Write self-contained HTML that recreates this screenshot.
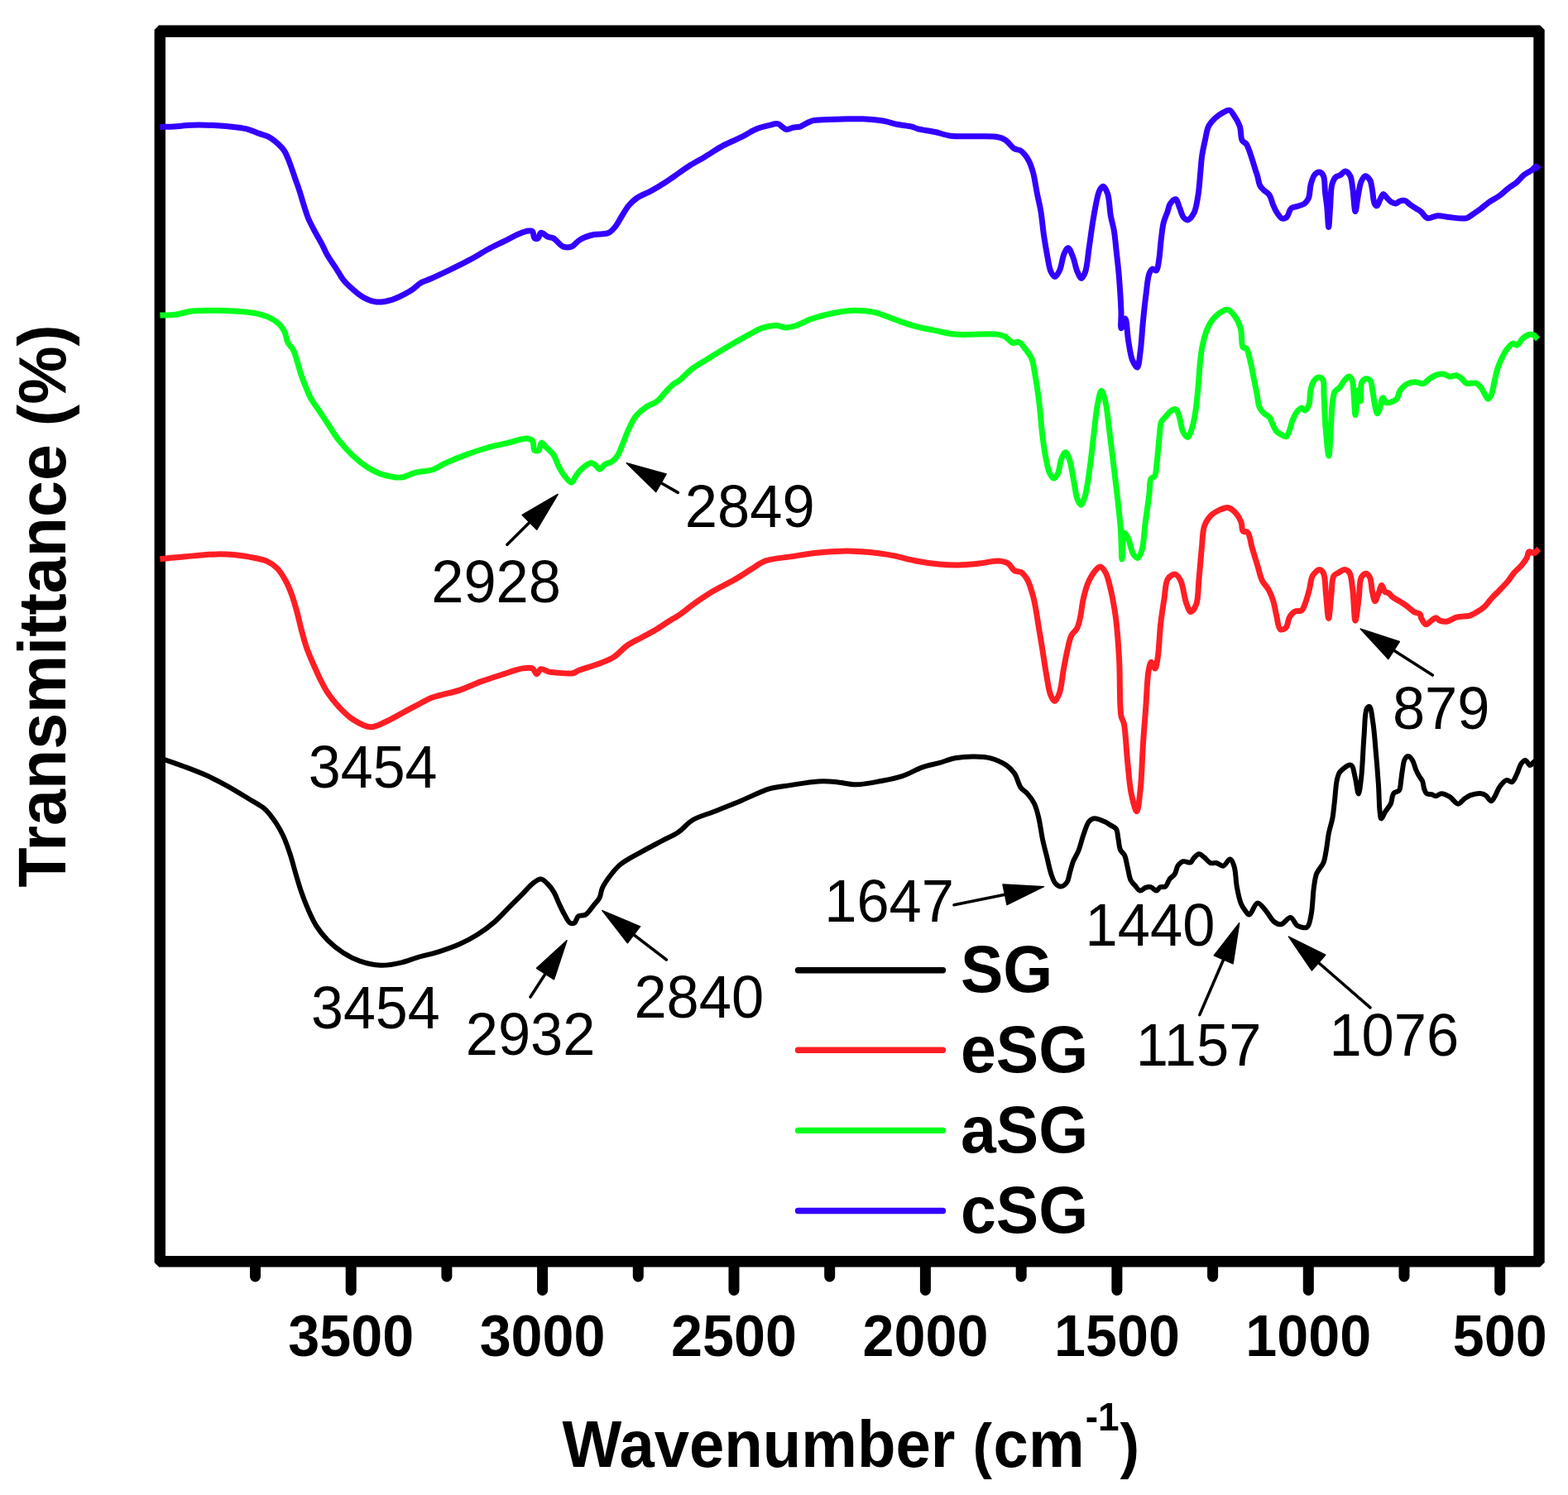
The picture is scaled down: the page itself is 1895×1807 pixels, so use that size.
<!DOCTYPE html>
<html><head><meta charset="utf-8"><title>FTIR spectra</title>
<style>
html,body{margin:0;padding:0;background:#fff;}
body{width:1895px;height:1807px;overflow:hidden;}
svg{display:block;}
text{font-family:'Liberation Sans', Arial, sans-serif;fill:#000;}
.b{font-weight:bold;}
</style></head><body>
<svg width="1895" height="1807" viewBox="0 0 1895 1807">
<rect x="0" y="0" width="1895" height="1807" fill="#fff"/>

<path d="M192.1 30.5H1861.2L1866.7 36.0V1525.9L1861.2 1531.4H192.1L186.6 1525.9V36.0ZM200.0 44.9V1518.0H1853.3V44.9Z" fill="#000" fill-rule="evenodd"/>
<path d="M308.5 1524.8V1543M424.2 1524.8V1559.5M539.9 1524.8V1543M655.6 1524.8V1559.5M771.3 1524.8V1543M887.0 1524.8V1559.5M1002.7 1524.8V1543M1118.4 1524.8V1559.5M1234.2 1524.8V1543M1349.9 1524.8V1559.5M1465.6 1524.8V1543M1581.3 1524.8V1559.5M1697.0 1524.8V1543M1812.7 1524.8V1559.5" stroke="#000" stroke-width="13" stroke-linecap="round" fill="none"/>
<text class="b" font-size="68.3" text-anchor="middle" transform="translate(424.2 1638.7) scale(1 1.041)">3500</text>
<text class="b" font-size="68.3" text-anchor="middle" transform="translate(655.6 1638.7) scale(1 1.041)">3000</text>
<text class="b" font-size="68.3" text-anchor="middle" transform="translate(887.0 1638.7) scale(1 1.041)">2500</text>
<text class="b" font-size="68.3" text-anchor="middle" transform="translate(1118.4 1638.7) scale(1 1.041)">2000</text>
<text class="b" font-size="68.3" text-anchor="middle" transform="translate(1349.9 1638.7) scale(1 1.041)">1500</text>
<text class="b" font-size="68.3" text-anchor="middle" transform="translate(1581.3 1638.7) scale(1 1.041)">1000</text>
<text class="b" font-size="68.3" text-anchor="middle" transform="translate(1812.7 1638.7) scale(1 1.041)">500</text>
<text class="b" font-size="76.1" transform="translate(679.4 1772.5) scale(1 1.043)">Wavenumber <tspan font-size="70.6">(</tspan><tspan dx="1.5">cm</tspan><tspan font-size="46" dy="-41.3" dx="1.2">-1</tspan><tspan font-size="70.6" dy="41.3" dx="0.8">)</tspan></text>
<text class="b" font-size="79" text-anchor="middle" transform="translate(79.3 732.5) rotate(-90) scale(1 1.032)">Transmittance (%)</text>
<path d="M195.0 917.0C196.7 917.5 197.8 917.8 200.1 918.6C205.1 920.3 215.8 924.0 223.8 927.0C232.1 930.1 240.7 933.3 249.1 937.1C257.6 940.9 266.0 945.2 274.4 949.8C282.9 954.5 291.8 960.1 299.8 965.0C306.9 969.4 314.3 972.6 320.0 977.7C325.4 982.6 329.7 989.0 333.5 994.6C336.9 999.7 339.4 1004.2 342.0 1009.8C345.1 1016.3 347.9 1024.2 350.4 1031.7C353.0 1039.4 354.9 1047.7 357.2 1055.4C359.4 1062.9 361.4 1070.0 363.9 1077.3C366.4 1084.7 369.3 1092.2 372.4 1099.3C375.5 1106.3 378.5 1113.3 382.5 1119.5C386.4 1125.6 390.8 1131.2 396.0 1136.4C401.5 1141.9 408.0 1147.3 414.6 1151.6C421.0 1155.7 427.6 1159.2 434.9 1161.7C442.7 1164.4 451.7 1166.5 460.2 1166.8C468.6 1167.1 477.7 1165.2 485.5 1163.4C492.5 1161.8 498.0 1159.1 505.0 1157.1C512.9 1154.8 521.9 1153.0 530.3 1150.4C538.8 1147.7 547.7 1144.7 555.7 1141.1C563.4 1137.6 570.6 1133.8 577.6 1129.3C584.7 1124.8 591.6 1119.5 597.9 1114.1C604.0 1108.8 609.2 1102.8 614.8 1097.2C620.4 1091.6 626.3 1085.6 631.6 1080.3C636.4 1075.5 641.0 1069.8 645.2 1066.8C648.2 1064.7 650.9 1062.4 653.6 1062.6C656.5 1062.8 659.4 1066.0 662.0 1068.5C664.8 1071.2 667.4 1074.9 669.6 1078.6C672.0 1082.7 673.5 1087.6 675.6 1092.1C677.7 1096.6 679.9 1101.5 682.3 1105.6C684.4 1109.3 686.6 1114.4 689.1 1115.7C690.7 1116.5 692.6 1116.5 694.1 1115.7C696.2 1114.5 696.8 1109.0 699.2 1107.3C701.4 1105.7 704.9 1107.2 707.6 1105.6C711.2 1103.5 714.8 1097.4 717.8 1093.8C720.3 1090.8 722.8 1088.6 724.5 1085.4C726.3 1081.9 726.1 1077.5 727.9 1073.5C729.9 1069.0 732.9 1064.5 736.3 1060.0C740.1 1054.9 744.2 1049.5 749.9 1044.8C756.7 1039.2 766.7 1034.4 775.2 1029.6C783.6 1024.9 792.6 1020.3 800.5 1016.1C807.4 1012.4 813.9 1009.8 820.0 1005.7C826.1 1001.6 830.3 995.3 836.9 991.3C844.2 986.9 853.2 984.8 862.2 981.2C872.7 977.0 884.8 972.3 896.0 967.7C907.3 963.0 919.2 956.4 929.8 953.3C938.7 950.7 946.0 950.5 955.1 949.1C965.5 947.5 979.1 945.0 988.9 944.4C996.5 944.0 1002.0 944.3 1009.1 944.9C1017.1 945.5 1025.7 948.3 1034.5 948.3C1044.2 948.3 1055.3 945.8 1064.9 944.0C1073.8 942.3 1081.9 940.9 1090.2 938.1C1098.8 935.3 1107.5 929.8 1115.5 927.1C1122.3 924.8 1128.5 923.9 1135.0 922.1C1141.5 920.3 1147.6 917.6 1154.4 916.3C1161.7 914.9 1170.2 914.3 1177.6 914.4C1184.4 914.5 1190.7 914.6 1197.0 916.3C1203.6 918.1 1211.2 921.5 1216.3 925.0C1220.4 927.8 1223.2 930.7 1226.0 934.7C1229.3 939.4 1230.7 947.9 1233.8 952.1C1236.0 955.2 1238.9 956.1 1241.3 958.9C1244.3 962.3 1247.8 966.8 1250.1 971.5C1252.5 976.5 1253.7 981.7 1255.2 988.0C1257.2 996.0 1258.5 1007.4 1260.3 1015.9C1261.9 1023.2 1263.6 1029.4 1265.3 1036.1C1267.0 1042.9 1268.4 1050.7 1270.4 1056.4C1271.9 1060.8 1273.2 1065.2 1275.5 1067.8C1277.3 1069.8 1279.6 1071.7 1281.8 1071.6C1284.2 1071.5 1287.5 1069.0 1289.4 1066.5C1291.6 1063.5 1291.9 1058.0 1293.2 1053.8C1294.5 1049.6 1295.4 1045.3 1297.0 1041.2C1298.7 1036.9 1301.4 1033.3 1303.3 1028.5C1305.7 1022.6 1307.4 1014.5 1309.7 1008.3C1311.7 1002.8 1313.3 996.3 1316.0 993.1C1317.8 991.0 1319.8 989.6 1322.3 989.3C1325.7 988.9 1331.6 991.6 1335.0 993.1C1337.5 994.2 1339.1 995.5 1341.3 996.9C1343.7 998.4 1347.2 999.4 1348.9 1001.9C1350.8 1004.7 1350.6 1009.3 1351.4 1013.3C1352.3 1017.7 1352.4 1023.7 1354.0 1027.3C1355.2 1030.0 1357.7 1030.9 1359.0 1033.6C1360.9 1037.4 1361.5 1043.7 1362.8 1048.8C1364.1 1053.9 1364.7 1060.2 1366.6 1064.0C1368.0 1066.7 1369.9 1068.2 1371.7 1070.3C1373.6 1072.5 1375.8 1076.3 1378.0 1076.6C1380.0 1076.9 1382.2 1073.5 1384.4 1072.8C1386.4 1072.1 1388.6 1071.7 1390.7 1072.2C1393.1 1072.8 1395.7 1076.8 1397.7 1076.6C1399.4 1076.4 1400.3 1073.0 1402.1 1072.2C1403.9 1071.4 1406.6 1072.7 1408.4 1071.6C1410.6 1070.2 1411.5 1065.3 1413.5 1062.7C1415.4 1060.3 1418.2 1059.0 1419.8 1056.4C1421.6 1053.6 1421.7 1048.9 1423.6 1046.3C1425.3 1044.0 1427.5 1041.9 1430.0 1041.2C1432.6 1040.5 1436.6 1043.4 1438.8 1042.5C1440.6 1041.7 1441.0 1039.0 1442.6 1037.4C1444.4 1035.6 1446.8 1032.4 1449.0 1032.3C1451.1 1032.2 1453.2 1034.5 1455.3 1036.1C1457.8 1038.0 1460.2 1042.1 1462.9 1043.1C1465.1 1044.0 1467.6 1042.5 1470.0 1043.0C1472.7 1043.6 1475.7 1047.2 1478.3 1046.7C1481.3 1046.2 1484.3 1038.1 1486.6 1038.4C1488.7 1038.7 1490.3 1043.6 1491.6 1047.5C1493.6 1053.6 1493.4 1064.6 1494.9 1072.4C1496.2 1079.5 1497.8 1087.3 1499.9 1092.4C1501.4 1095.9 1503.1 1098.4 1504.9 1100.7C1506.4 1102.7 1508.0 1105.8 1509.8 1105.6C1512.7 1105.4 1516.2 1091.9 1519.8 1091.5C1523.0 1091.2 1526.6 1097.2 1529.8 1100.7C1533.3 1104.6 1536.1 1111.3 1539.7 1114.0C1542.3 1116.0 1545.1 1117.6 1548.0 1117.3C1551.7 1116.9 1556.3 1108.6 1559.7 1109.0C1562.9 1109.4 1564.6 1117.0 1568.0 1118.9C1571.3 1120.7 1576.9 1122.3 1579.6 1120.6C1582.8 1118.6 1583.3 1111.7 1584.6 1105.6C1586.5 1096.8 1586.5 1081.5 1587.9 1072.4C1588.9 1065.9 1589.2 1060.8 1591.2 1055.8C1593.1 1051.0 1597.6 1047.3 1599.5 1042.6C1601.4 1037.9 1601.8 1033.1 1602.8 1027.6C1604.0 1021.1 1604.7 1012.7 1606.1 1006.0C1607.3 1000.1 1609.2 995.2 1610.3 989.4C1611.5 983.1 1611.9 976.7 1612.8 969.5C1613.8 960.9 1614.4 947.8 1616.1 941.3C1617.0 937.6 1617.3 935.5 1619.4 933.0C1622.1 929.7 1629.7 923.6 1632.7 924.7C1635.8 925.8 1636.3 934.2 1637.7 939.6C1639.3 945.7 1640.5 959.5 1641.8 959.5C1643.0 959.5 1644.2 947.8 1645.2 939.6C1646.7 926.8 1647.3 904.7 1648.5 889.8C1649.5 877.6 1649.2 861.2 1651.8 856.6C1652.7 855.0 1654.1 853.7 1655.1 854.1C1657.2 854.9 1658.1 865.9 1659.3 873.2C1660.8 882.7 1661.6 894.7 1662.6 906.4C1663.8 919.5 1665.0 934.8 1665.9 947.9C1666.7 959.6 1666.7 973.7 1667.6 981.1C1668.1 984.8 1668.2 989.2 1669.2 989.4C1670.3 989.6 1672.4 984.0 1674.2 981.1C1676.2 977.9 1679.4 974.6 1680.9 971.2C1682.2 968.2 1682.1 964.4 1683.0 962.0C1683.6 960.4 1683.9 959.3 1685.0 958.2C1686.4 956.9 1689.7 957.0 1691.0 955.2C1692.7 953.0 1692.4 948.8 1693.0 945.1C1693.7 940.6 1694.1 934.9 1695.0 930.1C1695.8 925.6 1696.2 919.8 1698.0 917.1C1699.1 915.5 1700.7 914.0 1702.1 914.1C1703.7 914.2 1705.7 916.9 1707.1 919.1C1708.9 921.9 1709.7 926.8 1711.1 930.1C1712.4 933.0 1713.7 935.7 1715.1 938.1C1716.4 940.3 1718.1 941.8 1719.1 944.1C1720.2 946.7 1720.2 950.5 1721.1 953.2C1721.9 955.5 1722.5 958.0 1724.1 959.2C1725.6 960.3 1728.2 959.7 1730.1 960.2C1731.9 960.7 1733.3 962.2 1735.1 962.2C1737.3 962.2 1739.6 959.2 1742.2 959.2C1745.2 959.2 1749.0 961.3 1752.2 963.2C1755.7 965.3 1759.0 971.7 1762.2 971.7C1765.0 971.7 1767.5 967.0 1770.2 965.2C1772.6 963.6 1774.5 962.2 1777.3 961.2C1780.9 960.0 1787.0 958.8 1790.3 959.2C1792.4 959.4 1793.6 960.1 1795.3 961.2C1797.6 962.7 1800.3 968.3 1802.3 968.2C1803.9 968.1 1804.9 965.3 1806.3 963.2C1808.3 960.1 1809.8 954.6 1812.3 951.2C1814.6 948.0 1817.6 943.8 1820.4 943.1C1822.7 942.5 1825.4 945.9 1827.4 945.1C1829.9 944.1 1831.6 938.7 1833.4 935.1C1835.3 931.3 1836.3 925.9 1838.4 923.1C1839.9 921.2 1841.7 919.0 1843.4 919.1C1845.4 919.2 1847.6 925.1 1849.4 925.1C1850.9 925.1 1852.0 922.3 1853.5 921.1C1854.9 919.9 1856.5 919.0 1858.0 918.0" fill="none" stroke="#000" stroke-width="6" stroke-linejoin="round" stroke-linecap="butt"/>
<path d="M193.4 675.7C203.5 674.7 213.2 673.7 223.8 672.8C235.5 671.8 250.1 670.1 260.9 669.9C269.2 669.7 275.3 669.9 282.9 670.6C291.1 671.4 301.1 673.1 308.2 674.5C313.4 675.6 317.4 676.0 321.7 677.9C326.4 680.0 331.3 683.2 335.2 687.1C339.3 691.2 342.5 697.1 345.4 702.3C348.1 707.2 350.0 711.9 352.1 717.5C354.6 724.1 356.9 732.3 358.9 739.5C360.8 746.4 362.0 752.8 363.9 759.8C365.9 767.4 368.1 775.9 370.7 783.4C373.2 790.5 376.2 797.1 379.1 803.7C381.9 810.0 384.7 816.4 387.6 822.2C390.3 827.6 392.6 832.3 396.0 837.4C399.8 843.0 404.5 849.0 409.5 854.3C414.6 859.7 420.0 865.4 426.4 869.5C432.9 873.7 441.2 878.7 448.4 878.8C455.2 878.9 461.8 874.3 468.6 871.2C475.9 867.9 484.0 862.9 490.6 859.4C495.9 856.6 500.0 854.4 505.0 851.8C510.4 849.0 515.1 845.9 521.9 843.3C531.1 839.8 545.3 837.6 555.7 834.1C564.8 831.0 572.5 827.0 581.0 823.9C589.4 820.8 597.8 818.2 606.3 815.5C614.7 812.8 624.7 808.9 631.6 807.9C636.2 807.2 640.6 806.5 643.5 807.9C645.9 809.1 646.8 814.5 648.5 814.6C650.2 814.7 651.4 809.3 653.6 808.7C656.2 808.0 660.4 811.4 663.7 812.1C666.6 812.7 668.8 812.7 672.2 813.0C677.5 813.4 687.5 814.8 692.4 813.8C695.4 813.2 696.2 811.7 699.2 810.4C704.9 808.0 717.0 804.9 724.5 802.0C730.8 799.6 736.0 797.8 741.4 794.4C747.3 790.7 752.5 784.0 758.3 780.0C763.7 776.2 769.6 773.8 775.2 770.7C780.8 767.6 786.5 764.8 792.1 761.5C797.8 758.1 803.9 753.7 809.0 750.5C813.0 748.0 815.9 746.7 820.0 743.9C825.8 740.0 833.3 733.6 840.3 728.7C847.4 723.7 854.5 718.9 862.2 714.3C870.2 709.5 879.6 705.4 887.5 700.8C894.7 696.6 901.3 692.1 907.8 688.1C913.7 684.5 918.0 680.5 924.7 678.0C933.1 674.9 944.7 674.5 955.1 672.9C966.1 671.2 977.0 669.0 988.9 667.9C1002.2 666.7 1017.0 665.8 1031.1 666.2C1045.2 666.6 1060.1 668.3 1073.3 670.4C1085.3 672.3 1096.3 676.0 1107.1 678.0C1116.8 679.8 1126.1 681.2 1135.0 682.0C1143.1 682.7 1150.3 683.0 1158.2 682.9C1166.4 682.7 1175.2 681.8 1183.4 681.0C1191.3 680.2 1200.3 677.7 1206.7 678.1C1211.3 678.4 1215.1 679.0 1218.3 681.0C1221.5 682.9 1223.1 688.0 1226.0 689.7C1228.4 691.1 1231.4 690.2 1233.8 691.6C1236.7 693.3 1239.2 696.5 1241.5 700.4C1244.8 706.1 1247.1 715.1 1249.3 723.6C1251.8 733.5 1253.3 745.9 1255.1 756.5C1256.8 766.5 1258.3 775.7 1259.9 785.6C1261.5 795.8 1263.1 807.0 1264.8 816.6C1266.3 824.9 1267.4 834.3 1269.6 839.8C1271.0 843.3 1272.8 847.6 1274.5 847.6C1276.4 847.6 1278.7 842.1 1280.3 837.9C1282.8 831.3 1283.5 819.7 1285.1 810.8C1286.7 802.2 1288.2 793.2 1290.0 785.6C1291.5 779.2 1292.5 772.7 1294.8 768.1C1296.6 764.5 1299.9 762.8 1301.6 759.4C1303.5 755.7 1304.3 751.7 1305.4 746.8C1306.9 740.3 1307.6 730.9 1309.3 723.6C1310.9 716.8 1312.6 710.0 1315.1 704.2C1317.3 699.2 1320.1 694.1 1322.9 690.7C1325.0 688.1 1327.5 684.7 1329.7 684.9C1332.0 685.1 1334.5 689.2 1336.4 692.6C1339.0 697.4 1340.5 705.1 1342.2 712.0C1344.1 719.8 1345.9 729.5 1347.1 737.2C1348.1 743.6 1348.7 747.7 1349.4 755.0C1350.6 766.4 1351.8 783.0 1352.7 799.2C1353.8 819.1 1352.7 853.8 1355.0 865.6C1355.9 870.0 1357.3 870.3 1358.3 874.5C1360.4 883.9 1361.1 906.3 1362.7 921.0C1364.1 934.2 1364.9 947.8 1367.1 958.6C1368.9 967.0 1372.0 980.8 1373.8 980.7C1375.8 980.6 1377.0 964.7 1378.2 954.2C1379.9 939.1 1380.3 916.2 1381.5 898.8C1382.5 883.2 1383.7 869.3 1384.8 854.6C1385.9 839.8 1386.3 819.7 1388.2 810.3C1389.1 805.7 1390.1 800.4 1391.5 800.3C1392.7 800.2 1394.7 808.3 1395.9 808.1C1397.4 807.9 1398.3 800.5 1399.2 794.8C1400.8 785.1 1401.2 767.4 1402.6 755.0C1403.8 744.0 1405.4 733.7 1407.0 724.0C1408.4 715.4 1408.1 704.5 1411.4 699.6C1413.6 696.4 1417.7 693.7 1420.3 694.1C1422.9 694.5 1425.0 698.2 1426.9 701.8C1430.0 707.8 1431.0 721.5 1433.5 728.4C1435.2 733.0 1437.0 739.3 1439.1 739.5C1441.1 739.7 1444.1 734.8 1445.7 730.6C1448.4 723.6 1447.9 710.4 1449.0 699.6C1450.2 687.7 1451.2 673.4 1452.4 662.0C1453.4 652.4 1453.1 642.5 1455.7 635.4C1457.7 629.9 1461.2 625.3 1464.5 622.1C1467.2 619.5 1470.2 618.0 1473.4 616.6C1476.8 615.1 1481.1 613.1 1484.5 613.7C1487.8 614.3 1490.8 617.2 1493.3 619.9C1496.0 622.9 1498.5 627.2 1500.0 631.0C1501.4 634.6 1500.4 640.3 1502.2 642.1C1503.5 643.4 1506.2 641.8 1507.7 643.2C1510.6 645.8 1511.3 655.5 1513.2 662.0C1515.3 669.1 1517.8 677.1 1519.9 684.1C1521.8 690.3 1522.9 696.7 1525.4 701.8C1527.5 706.1 1531.0 708.9 1533.2 712.9C1535.5 717.1 1537.3 721.6 1538.8 726.5C1540.5 731.8 1541.2 737.9 1542.6 743.6C1544.0 749.3 1544.5 759.1 1547.3 760.7C1549.1 761.7 1552.2 760.5 1554.0 758.8C1556.5 756.4 1556.5 749.0 1558.7 745.5C1560.5 742.6 1562.9 740.0 1565.4 738.8C1567.7 737.7 1571.0 739.3 1573.0 737.9C1575.3 736.3 1576.3 732.1 1577.7 728.4C1579.5 723.8 1581.1 717.6 1582.5 712.2C1583.9 706.8 1583.9 700.2 1586.3 696.1C1588.3 692.7 1592.4 688.4 1594.8 688.5C1596.6 688.5 1598.4 690.7 1599.6 693.2C1601.9 697.9 1601.4 708.6 1602.4 717.0C1603.5 726.5 1604.6 747.4 1605.7 747.4C1606.8 747.4 1608.0 726.2 1609.1 717.0C1610.0 709.4 1609.4 700.0 1611.9 696.1C1613.3 693.9 1615.5 693.5 1617.6 692.3C1619.9 691.0 1622.9 688.4 1625.2 688.5C1627.3 688.6 1629.4 690.1 1630.9 692.3C1633.4 696.1 1633.6 704.5 1634.7 712.2C1636.2 722.8 1636.6 750.2 1638.0 750.2C1639.2 750.2 1641.1 730.8 1642.3 721.7C1643.4 713.4 1642.7 702.7 1645.2 698.0C1646.6 695.4 1649.1 693.1 1650.9 693.2C1652.6 693.3 1654.4 695.7 1655.6 698.0C1657.5 701.8 1657.3 710.0 1658.5 715.1C1659.5 719.3 1660.5 726.4 1661.8 726.5C1663.0 726.6 1664.7 720.2 1666.1 717.0C1667.4 713.8 1668.6 707.6 1669.9 707.5C1671.1 707.4 1672.0 713.5 1673.7 715.1C1675.0 716.3 1676.9 716.0 1678.4 717.0C1680.1 718.1 1681.1 720.2 1683.1 721.7C1685.6 723.7 1689.7 725.5 1692.6 727.4C1695.2 729.1 1697.5 730.5 1700.0 732.4C1702.9 734.5 1706.0 737.9 1709.0 739.6C1711.4 741.0 1714.6 740.8 1716.1 742.3C1717.4 743.6 1716.9 745.9 1717.9 747.7C1719.1 750.0 1721.3 754.5 1723.3 754.8C1725.2 755.1 1727.5 751.7 1729.6 750.3C1731.5 749.0 1733.6 746.7 1735.4 746.8C1737.1 746.9 1738.4 749.6 1740.4 750.3C1742.7 751.2 1745.5 751.6 1748.4 751.2C1752.2 750.7 1756.5 747.1 1761.0 745.9C1765.8 744.6 1772.0 745.4 1776.3 744.1C1779.8 743.1 1782.3 741.3 1785.2 739.6C1788.3 737.8 1791.4 735.9 1794.2 733.3C1797.4 730.3 1800.1 725.9 1803.2 722.5C1806.1 719.3 1809.0 716.8 1812.1 713.6C1815.6 710.0 1819.8 705.7 1822.9 701.9C1825.7 698.5 1827.4 695.1 1830.1 692.0C1832.8 688.8 1836.5 686.2 1839.1 683.1C1841.5 680.2 1843.8 677.0 1845.3 674.1C1846.6 671.6 1846.4 667.7 1848.0 666.9C1849.5 666.1 1852.4 669.2 1854.3 668.7C1856.3 668.2 1857.9 665.1 1859.7 663.3" fill="none" stroke="#ff1e24" stroke-width="7" stroke-linejoin="round" stroke-linecap="butt"/>
<path d="M193.4 381.1C199.6 380.8 205.7 381.1 212.0 380.3C218.6 379.5 224.8 376.9 232.2 376.0C240.9 375.0 252.0 375.2 260.9 375.2C268.7 375.2 275.3 375.5 282.9 376.0C291.0 376.6 300.7 377.1 308.2 378.6C314.5 379.8 320.1 381.3 325.1 383.6C329.5 385.6 333.7 388.2 336.9 391.2C339.8 393.9 341.9 396.9 343.7 400.5C345.7 404.4 345.9 410.1 347.9 414.0C349.7 417.6 352.8 419.8 354.6 423.3C356.5 427.1 357.5 431.4 358.9 436.0C360.6 441.2 362.1 447.6 363.9 452.9C365.5 457.7 367.1 461.8 369.0 466.4C371.0 471.3 373.0 476.7 375.7 481.6C378.6 486.8 382.5 491.7 385.9 496.8C389.3 501.9 392.4 506.6 396.0 512.0C400.2 518.3 404.5 525.8 409.5 532.2C414.6 538.7 420.5 545.3 426.4 550.8C431.8 555.9 437.5 560.6 443.3 564.3C448.8 567.8 453.8 570.7 460.2 572.8C467.6 575.2 478.7 577.6 485.5 577.0C490.2 576.6 493.8 573.9 497.3 572.8C500.1 571.9 501.9 571.3 505.0 570.6C509.5 569.6 516.4 569.7 521.9 568.0C527.7 566.2 532.5 562.4 538.8 559.6C546.3 556.2 555.6 552.5 564.1 549.4C572.5 546.3 580.9 543.4 589.4 541.0C597.8 538.6 606.6 537.0 614.8 535.1C622.4 533.3 631.5 529.6 636.7 530.0C639.7 530.2 641.9 530.8 643.5 532.6C645.5 534.9 644.1 542.9 646.0 544.4C647.2 545.4 649.8 545.3 651.1 544.4C652.9 543.1 652.7 535.5 654.4 535.1C655.9 534.7 658.2 538.9 660.4 541.0C663.0 543.5 666.4 545.9 668.8 549.4C671.6 553.5 673.0 559.9 675.6 564.6C678.1 569.1 681.1 574.0 684.0 577.3C686.2 579.8 688.7 583.5 690.7 583.2C692.7 582.9 693.9 578.2 695.8 575.6C697.8 572.8 699.8 569.7 702.6 567.2C705.8 564.3 711.2 559.8 714.4 559.6C716.4 559.5 717.9 560.9 719.5 562.1C721.3 563.4 722.7 567.1 724.5 567.2C726.6 567.3 728.8 562.8 731.3 561.3C733.8 559.7 737.2 559.6 739.7 557.9C742.3 556.1 744.5 553.5 746.5 550.3C749.1 546.3 751.0 540.3 753.2 535.1C755.5 529.6 757.4 523.6 760.0 518.2C762.5 512.9 764.8 507.5 768.4 503.0C772.1 498.5 777.3 494.2 781.9 491.2C785.8 488.6 790.2 488.0 793.8 485.3C797.6 482.4 800.5 477.9 803.9 474.3C807.2 470.8 810.9 466.6 814.0 464.2C816.1 462.5 817.6 462.4 820.0 460.6C824.3 457.4 830.8 450.0 836.9 445.4C843.1 440.7 850.2 437.0 857.1 432.7C864.3 428.2 871.5 423.7 879.1 419.2C887.2 414.4 896.8 409.0 904.4 404.9C910.6 401.6 915.5 398.3 921.3 396.4C926.8 394.6 933.1 393.5 938.2 393.6C942.5 393.7 946.2 395.8 950.0 395.9C953.5 395.9 956.3 395.3 960.2 394.2C965.9 392.5 973.2 388.0 980.4 385.5C988.3 382.8 997.2 380.4 1005.7 378.7C1014.1 377.0 1022.6 375.5 1031.1 375.3C1039.5 375.1 1048.1 375.6 1056.4 377.4C1065.0 379.2 1073.2 383.4 1081.7 386.3C1090.1 389.2 1098.8 392.5 1107.1 394.7C1114.9 396.8 1122.2 397.9 1130.0 399.4C1138.0 401.0 1144.8 403.2 1154.5 404.1C1168.3 405.4 1195.2 402.6 1205.3 404.1C1209.7 404.7 1211.7 405.3 1214.7 406.9C1218.0 408.6 1221.0 413.5 1224.1 414.4C1226.6 415.1 1229.3 412.6 1231.6 413.5C1234.5 414.6 1237.1 419.2 1239.6 422.5C1242.2 425.9 1245.1 429.3 1246.9 433.7C1249.1 439.1 1249.6 445.7 1250.9 453.0C1252.6 462.3 1254.3 473.8 1255.7 485.1C1257.3 497.7 1258.2 513.1 1259.7 525.2C1260.9 535.2 1262.1 544.2 1263.7 552.5C1265.1 559.5 1266.3 567.2 1268.5 571.7C1269.9 574.6 1271.6 578.0 1273.3 578.1C1274.8 578.2 1276.7 575.7 1278.1 573.3C1280.4 569.2 1280.9 558.9 1283.0 554.1C1284.4 550.9 1286.3 546.7 1287.8 546.8C1289.5 546.9 1291.2 551.9 1292.6 555.7C1294.7 561.6 1295.8 571.7 1297.4 579.7C1299.0 587.7 1300.1 598.5 1302.2 603.8C1303.4 606.8 1304.9 610.3 1306.2 610.2C1307.8 610.1 1309.6 604.9 1311.0 600.6C1313.5 593.2 1315.0 579.8 1316.7 568.5C1318.6 555.9 1319.9 541.6 1321.5 528.4C1323.1 515.4 1324.3 500.2 1326.3 489.9C1327.7 482.8 1329.4 472.3 1331.1 472.2C1332.6 472.1 1334.5 479.6 1335.9 485.1C1338.1 493.9 1339.1 508.3 1340.7 520.4C1342.4 533.3 1344.0 547.1 1345.6 560.5C1347.2 573.9 1348.9 587.2 1350.4 600.6C1351.9 614.0 1353.5 627.7 1354.4 640.7C1355.3 652.8 1355.3 676.0 1356.0 676.0C1356.7 676.0 1356.0 644.6 1358.4 643.9C1359.6 643.6 1361.7 647.5 1363.2 650.4C1365.6 655.0 1366.9 665.5 1369.6 669.6C1371.2 672.1 1373.6 674.7 1375.2 674.4C1377.2 674.0 1378.8 669.1 1380.1 664.8C1382.4 657.4 1382.7 643.7 1384.1 632.7C1385.6 621.2 1387.7 607.4 1388.9 597.4C1389.8 590.1 1388.9 581.9 1391.0 578.5C1392.1 576.7 1394.4 577.3 1395.5 575.5C1397.4 572.5 1397.2 566.0 1398.0 560.0C1399.1 551.6 1400.0 539.0 1401.0 530.0C1401.8 522.7 1401.6 514.5 1403.5 510.0C1404.6 507.3 1406.4 506.3 1408.1 504.3C1410.1 502.0 1412.2 498.7 1414.6 497.1C1416.6 495.7 1419.3 494.0 1421.0 494.7C1422.9 495.5 1423.8 499.4 1425.0 502.7C1426.8 507.7 1427.4 517.5 1429.8 522.0C1431.3 525.0 1433.7 528.6 1435.4 528.4C1437.3 528.2 1438.8 522.8 1440.2 518.8C1442.2 513.0 1443.7 504.5 1445.0 496.3C1446.5 486.6 1447.4 474.5 1448.3 464.2C1449.2 454.7 1449.6 444.9 1450.5 436.9C1451.2 430.6 1451.6 425.8 1452.8 419.9C1454.2 413.2 1455.8 405.0 1458.6 398.6C1461.1 392.8 1464.1 387.1 1468.3 383.1C1472.5 379.1 1479.6 374.0 1483.8 374.4C1487.0 374.7 1489.3 378.2 1491.6 381.2C1494.6 385.1 1497.5 390.8 1499.3 396.7C1501.4 403.5 1499.7 417.0 1502.2 419.9C1503.2 421.1 1504.9 419.9 1506.1 421.0C1508.6 423.4 1510.1 432.9 1511.6 439.0C1513.2 445.2 1514.1 451.7 1515.4 458.0C1516.7 464.3 1518.0 471.0 1519.2 477.0C1520.2 482.3 1520.3 488.2 1522.1 492.2C1523.5 495.4 1525.6 497.7 1527.8 499.8C1529.8 501.7 1532.7 502.4 1534.4 504.5C1536.2 506.8 1536.8 510.3 1538.2 513.1C1539.6 516.0 1541.0 519.5 1543.0 521.6C1544.6 523.4 1546.7 524.4 1548.7 525.4C1550.6 526.4 1552.9 528.3 1554.4 527.8C1556.1 527.2 1557.1 523.5 1558.2 520.7C1559.7 517.2 1560.5 512.1 1562.0 508.3C1563.4 504.9 1564.7 501.4 1566.7 498.8C1568.5 496.4 1571.5 493.2 1573.4 493.1C1574.8 493.1 1576.0 496.2 1577.2 496.0C1578.8 495.7 1580.8 492.2 1581.9 489.3C1583.5 485.1 1582.7 477.3 1583.8 472.2C1584.7 468.0 1585.5 463.6 1587.6 460.8C1589.3 458.5 1592.3 456.0 1594.3 456.1C1596.0 456.2 1597.9 457.8 1599.0 459.9C1600.8 463.4 1599.6 470.2 1600.0 477.0C1600.6 487.2 1600.9 502.5 1601.9 515.0C1602.9 527.2 1604.8 551.1 1605.9 551.1C1607.0 551.1 1607.7 526.3 1608.5 515.0C1609.2 504.9 1609.3 494.2 1610.4 486.5C1611.2 481.2 1611.4 476.3 1613.3 473.2C1614.7 470.9 1617.2 470.4 1619.0 468.4C1621.1 466.1 1622.6 462.2 1624.7 459.9C1626.5 457.9 1628.8 454.9 1630.4 455.1C1631.9 455.2 1633.3 457.6 1634.2 459.9C1635.8 463.7 1635.5 470.8 1636.1 477.0C1636.8 484.5 1637.3 501.7 1638.0 501.7C1638.6 501.7 1639.3 491.6 1639.9 486.5C1640.5 481.4 1641.0 471.3 1641.8 471.3C1642.6 471.3 1644.0 484.7 1644.6 484.6C1645.4 484.5 1643.6 467.1 1645.6 462.7C1646.7 460.3 1648.5 458.4 1650.3 458.0C1652.0 457.6 1654.6 458.4 1656.0 459.9C1658.0 462.1 1657.9 467.7 1658.8 472.2C1659.9 477.6 1660.6 485.3 1661.7 490.3C1662.5 494.0 1663.4 499.7 1664.5 499.8C1665.4 499.9 1666.5 496.5 1667.4 494.1C1668.8 490.6 1669.6 481.0 1671.2 480.8C1672.3 480.6 1673.4 485.7 1675.0 486.5C1676.4 487.2 1678.2 486.8 1680.0 486.3C1682.4 485.7 1686.0 484.4 1688.0 482.2C1690.2 479.8 1690.0 475.2 1692.0 472.2C1694.0 469.1 1697.0 465.9 1700.1 464.2C1703.1 462.5 1706.8 461.8 1710.1 461.7C1713.4 461.6 1717.2 464.4 1720.1 463.7C1722.8 463.1 1724.5 459.9 1727.1 458.2C1729.8 456.4 1733.0 454.2 1736.1 453.2C1739.0 452.3 1742.4 451.8 1745.2 452.2C1747.7 452.6 1749.7 454.9 1752.2 455.2C1754.7 455.5 1757.8 453.3 1760.2 453.7C1762.4 454.1 1764.3 455.7 1766.2 457.2C1768.3 458.8 1769.6 462.1 1772.2 463.2C1775.3 464.5 1781.2 461.9 1784.3 463.2C1786.9 464.3 1788.6 467.0 1790.3 469.2C1791.9 471.3 1792.9 474.0 1794.3 476.2C1795.6 478.3 1796.9 482.1 1798.3 482.2C1799.6 482.3 1801.2 479.5 1802.3 477.2C1804.2 473.3 1804.9 465.8 1806.3 460.2C1807.6 454.8 1808.7 449.0 1810.3 444.1C1811.8 439.7 1813.6 435.8 1815.4 432.1C1817.0 428.8 1818.3 425.9 1820.4 423.1C1822.6 420.2 1825.9 415.6 1828.4 415.1C1830.1 414.7 1831.7 417.5 1833.4 417.1C1835.7 416.5 1837.9 411.2 1840.4 409.0C1842.6 407.1 1845.0 405.1 1847.4 404.5C1849.4 404.0 1851.7 404.2 1853.5 405.0C1855.4 405.9 1856.8 408.4 1858.5 410.1" fill="none" stroke="#05ff1d" stroke-width="7" stroke-linejoin="round" stroke-linecap="butt"/>
<path d="M193.4 153.4C199.0 153.2 204.3 153.2 210.3 152.9C217.1 152.5 224.3 151.4 232.2 151.2C241.5 150.9 253.3 151.2 262.6 151.7C270.5 152.1 278.0 152.9 284.6 153.8C290.1 154.5 294.9 155.0 299.8 156.3C304.5 157.6 308.9 159.8 313.3 161.4C317.4 162.9 321.5 163.6 325.1 165.6C328.8 167.6 332.1 170.4 335.2 173.2C338.3 176.0 341.3 178.8 343.7 182.5C346.5 186.8 348.3 192.5 350.4 197.7C352.5 203.1 354.3 209.0 356.3 214.6C358.3 220.2 360.4 225.9 362.2 231.5C364.0 237.1 365.6 242.9 367.3 248.3C369.0 253.5 370.3 258.4 372.4 263.5C374.7 269.1 377.9 274.9 380.8 280.4C383.6 285.6 386.7 290.7 389.3 295.6C391.7 300.2 393.4 304.6 396.0 309.1C398.9 314.1 402.9 319.4 406.1 324.3C409.1 328.9 411.3 333.6 414.6 337.8C418.0 342.1 422.2 346.0 426.4 349.7C430.6 353.4 435.0 357.3 439.9 359.8C444.6 362.3 449.7 364.4 455.1 364.9C460.9 365.4 467.8 364.0 473.7 362.3C479.6 360.6 485.9 357.2 490.6 354.7C494.3 352.7 497.0 350.9 500.0 348.8C502.9 346.7 505.2 343.9 508.4 342.0C511.9 339.9 515.8 339.0 520.3 337.0C526.5 334.3 534.7 330.5 542.2 326.9C550.4 323.0 559.4 318.6 567.5 314.2C575.2 310.1 582.3 305.4 589.5 301.5C596.3 297.8 603.4 294.6 609.8 291.4C615.7 288.5 621.4 285.1 626.6 283.0C630.8 281.3 635.4 279.4 638.5 279.1C640.5 278.9 642.3 278.6 643.5 279.6C645.1 280.9 644.5 286.9 646.1 288.0C647.2 288.8 649.1 288.7 650.3 288.0C651.9 287.0 651.9 281.8 653.7 281.3C655.7 280.7 659.4 285.2 662.1 286.3C664.4 287.3 666.5 286.8 668.9 288.0C672.5 289.9 676.6 296.6 680.7 298.1C684.0 299.3 687.6 299.2 690.8 298.1C694.4 296.8 696.9 292.0 701.0 289.7C705.7 287.0 712.1 284.8 717.8 283.5C723.3 282.2 730.3 283.7 734.7 281.8C738.3 280.3 740.6 277.5 743.2 274.5C746.3 270.9 748.8 265.4 751.6 261.0C754.4 256.7 756.8 252.0 760.0 248.3C763.0 244.7 766.1 241.8 770.2 239.0C774.9 235.8 781.5 233.6 787.1 230.6C792.8 227.5 799.0 223.7 804.0 220.5C808.1 217.9 810.9 215.8 815.0 213.0C820.0 209.5 825.9 205.0 831.9 201.2C838.3 197.1 845.2 193.5 852.1 189.4C859.3 185.1 866.6 179.9 874.1 175.9C881.3 172.0 889.3 169.1 896.1 165.7C902.1 162.6 907.2 158.8 912.9 156.4C918.4 154.1 924.8 152.5 929.8 151.4C933.6 150.5 936.7 149.0 940.0 149.7C943.5 150.5 946.8 155.8 950.1 156.4C952.9 156.9 955.7 154.8 958.5 154.2C961.3 153.7 963.9 154.0 967.0 153.1C971.1 151.8 975.4 147.7 980.5 146.3C986.4 144.6 993.6 145.0 1000.7 144.6C1008.7 144.1 1018.5 143.9 1026.1 143.8C1032.3 143.7 1036.8 143.5 1043.0 143.8C1050.6 144.2 1060.8 145.0 1068.3 146.3C1074.5 147.4 1079.5 149.4 1085.2 150.5C1090.8 151.6 1097.8 152.0 1102.1 153.1C1104.9 153.8 1105.9 154.8 1108.8 155.6C1113.8 157.0 1123.2 158.0 1130.0 159.5C1136.5 160.9 1141.8 163.3 1148.8 164.2C1157.2 165.3 1167.6 164.6 1177.0 164.8C1186.4 165.0 1198.5 164.2 1205.3 165.5C1209.4 166.3 1211.6 167.0 1214.7 168.9C1218.6 171.3 1222.4 177.7 1226.0 179.8C1228.6 181.3 1231.1 180.5 1233.5 182.1C1236.8 184.3 1240.4 189.1 1242.9 193.4C1245.5 197.9 1246.9 202.7 1248.5 208.4C1250.5 215.5 1251.6 224.9 1253.2 232.9C1254.7 240.6 1256.5 247.4 1257.9 255.5C1259.4 264.8 1260.3 276.3 1261.7 285.6C1262.9 293.7 1264.1 300.8 1265.5 308.1C1266.9 315.2 1267.9 324.2 1270.2 328.8C1271.5 331.5 1273.3 334.5 1274.9 334.5C1276.7 334.5 1278.9 330.3 1280.5 327.0C1283.0 322.0 1283.9 311.1 1286.2 306.3C1287.6 303.3 1289.3 299.6 1290.9 299.7C1292.8 299.8 1294.8 306.0 1296.5 310.0C1298.7 315.2 1300.0 324.0 1302.2 328.8C1303.7 332.0 1305.3 336.4 1306.9 336.4C1308.5 336.4 1310.3 332.4 1311.6 328.8C1314.0 322.2 1314.7 309.3 1316.3 298.7C1318.1 286.9 1319.7 273.0 1321.9 261.1C1323.9 250.2 1326.0 235.8 1328.9 230.1C1330.2 227.5 1331.7 225.1 1333.1 225.2C1334.9 225.3 1337.2 230.1 1338.6 234.0C1340.9 240.4 1340.9 253.1 1342.4 261.1C1343.6 267.6 1345.2 272.1 1346.3 278.5C1347.6 286.1 1348.3 295.1 1349.2 303.7C1350.2 312.6 1351.2 320.5 1352.1 330.8C1353.2 344.2 1354.6 365.1 1355.0 377.3C1355.2 385.2 1353.9 396.5 1355.0 396.7C1355.9 396.9 1358.6 384.8 1359.9 385.0C1361.8 385.3 1362.2 403.4 1363.7 412.1C1365.1 420.2 1366.2 429.7 1368.6 435.4C1370.2 439.2 1372.9 444.4 1374.4 444.1C1376.5 443.7 1377.2 431.4 1378.3 423.8C1379.6 414.2 1380.1 401.9 1381.2 390.8C1382.3 379.3 1383.6 366.7 1385.0 356.0C1386.2 346.9 1386.8 336.1 1388.9 330.8C1390.0 328.0 1391.2 325.5 1392.8 325.0C1394.2 324.6 1396.4 327.5 1397.6 326.9C1399.5 325.9 1399.7 320.0 1400.5 315.3C1401.8 308.2 1402.3 296.5 1403.4 288.2C1404.3 281.2 1404.8 274.6 1406.3 268.8C1407.6 263.8 1409.8 259.3 1411.2 255.3C1412.3 252.1 1412.5 248.9 1414.1 246.5C1415.7 244.1 1419.0 240.3 1420.9 240.7C1423.0 241.2 1424.1 247.8 1425.7 251.4C1427.3 255.2 1428.5 260.6 1430.6 263.0C1432.0 264.6 1433.7 266.2 1435.4 265.9C1437.8 265.5 1441.1 261.1 1443.1 257.2C1445.8 251.9 1446.7 243.6 1448.0 235.9C1449.5 227.0 1450.0 215.5 1450.9 206.8C1451.6 199.7 1451.8 193.9 1452.8 187.5C1453.8 181.0 1455.3 174.2 1456.7 168.1C1457.9 162.6 1458.4 157.0 1460.6 152.6C1462.5 148.8 1465.4 145.7 1468.3 142.9C1471.2 140.2 1474.8 137.8 1478.0 136.1C1480.7 134.7 1483.6 132.6 1485.8 133.2C1488.1 133.8 1489.7 137.3 1491.6 140.0C1494.0 143.5 1496.7 147.9 1498.3 152.6C1500.1 157.8 1499.2 166.5 1501.3 170.0C1502.5 172.1 1504.6 171.9 1506.1 173.9C1508.7 177.5 1510.9 185.6 1512.9 191.3C1514.7 196.6 1516.4 202.9 1517.7 206.8C1518.5 209.2 1519.0 210.4 1519.7 212.7C1520.6 215.9 1521.1 221.1 1522.6 224.1C1523.8 226.5 1525.5 228.0 1527.3 229.8C1529.3 231.8 1532.2 232.9 1534.0 235.5C1536.2 238.6 1537.0 244.1 1538.7 247.9C1540.2 251.3 1541.6 254.6 1543.5 257.4C1545.2 259.9 1547.1 263.3 1549.2 264.0C1550.9 264.6 1553.2 263.9 1554.9 262.6C1557.3 260.7 1558.0 253.9 1560.6 251.7C1562.7 250.0 1565.6 250.2 1568.2 249.3C1571.0 248.3 1574.5 247.7 1576.7 246.0C1578.8 244.3 1580.3 242.2 1581.5 239.3C1583.3 235.1 1582.8 227.2 1584.3 222.2C1585.5 217.9 1586.9 213.1 1589.1 210.8C1590.7 209.1 1593.1 207.7 1594.8 208.0C1596.6 208.3 1598.4 210.3 1599.5 212.7C1601.4 216.7 1600.7 225.4 1601.4 231.7C1602.1 238.0 1603.1 244.0 1603.8 250.7C1604.6 258.2 1605.1 274.5 1605.7 274.5C1606.3 274.5 1606.9 259.0 1607.6 250.7C1608.3 241.6 1608.0 228.8 1610.0 222.2C1611.2 218.4 1612.8 215.4 1614.7 213.7C1616.1 212.5 1617.8 212.7 1619.5 211.8C1621.6 210.6 1624.0 206.8 1626.1 207.0C1628.1 207.2 1630.4 210.1 1631.8 212.7C1633.7 216.2 1633.8 221.4 1634.7 227.0C1635.9 234.9 1636.8 255.5 1638.0 255.5C1639.0 255.5 1640.1 242.7 1641.3 236.5C1642.5 230.6 1643.2 223.7 1645.1 219.4C1646.4 216.5 1648.1 212.9 1649.9 212.7C1651.6 212.5 1654.2 215.3 1655.6 217.5C1657.3 220.3 1657.5 224.7 1658.4 228.9C1659.4 234.0 1659.5 242.8 1661.2 246.0C1662.0 247.5 1663.2 249.0 1664.1 248.8C1665.4 248.6 1666.6 243.6 1667.9 241.2C1669.1 238.9 1670.3 234.8 1671.7 234.6C1672.9 234.4 1674.1 237.0 1675.5 238.4C1677.2 240.1 1679.1 242.8 1681.2 244.1C1683.0 245.2 1685.1 246.2 1686.9 246.0C1688.7 245.8 1690.1 243.6 1692.0 243.0C1694.0 242.4 1696.5 242.0 1698.5 242.7C1700.6 243.4 1702.1 245.9 1704.2 247.4C1706.5 249.1 1709.5 250.7 1711.8 252.2C1713.8 253.5 1715.5 254.4 1717.5 256.0C1719.9 258.0 1722.0 262.7 1725.1 263.6C1728.5 264.6 1733.2 260.9 1737.5 260.7C1742.1 260.5 1746.5 262.1 1751.7 262.6C1758.0 263.2 1767.5 264.9 1772.6 263.6C1775.9 262.7 1777.5 260.6 1780.2 258.8C1783.2 256.8 1786.6 254.5 1789.7 252.2C1792.9 249.8 1795.7 247.0 1799.2 244.6C1803.0 241.9 1807.7 239.8 1811.6 237.0C1815.6 234.1 1819.3 230.3 1823.0 227.5C1826.2 225.0 1829.4 223.4 1832.4 220.8C1835.7 218.0 1838.7 213.9 1842.0 211.3C1845.0 208.9 1848.9 207.6 1851.4 205.6C1853.4 204.1 1854.7 200.9 1856.2 200.9C1857.5 200.9 1858.7 203.4 1860.0 204.7" fill="none" stroke="#3300ff" stroke-width="7" stroke-linejoin="round" stroke-linecap="butt"/>
<line x1="964.5" y1="1172.8" x2="1139.5" y2="1172.8" stroke="#000" stroke-width="7.4" stroke-linecap="round"/>
<text class="b" font-size="77" transform="translate(1161 1199.3) scale(1 1.03)">SG</text>
<line x1="964.5" y1="1269.3" x2="1139.5" y2="1269.3" stroke="#ff1e24" stroke-width="7.4" stroke-linecap="round"/>
<text class="b" font-size="77" transform="translate(1161 1295.8) scale(1 1.03)">eSG</text>
<line x1="964.5" y1="1366.4" x2="1139.5" y2="1366.4" stroke="#05ff1d" stroke-width="7.4" stroke-linecap="round"/>
<text class="b" font-size="77" transform="translate(1161 1392.9) scale(1 1.03)">aSG</text>
<line x1="964.5" y1="1463.5" x2="1139.5" y2="1463.5" stroke="#3300ff" stroke-width="7.4" stroke-linecap="round"/>
<text class="b" font-size="77" transform="translate(1161 1490.0) scale(1 1.03)">cSG</text>
<text font-size="70.5" transform="translate(521.2 727.9) scale(1 1.03)">2928</text>
<text font-size="70.5" transform="translate(827.8 637.1) scale(1 1.03)">2849</text>
<text font-size="70" transform="translate(372.8 952.0) scale(1 1.03)">3454</text>
<text font-size="70.5" transform="translate(1682.9 881.4) scale(1 1.03)">879</text>
<text font-size="70.5" transform="translate(996.2 1114.1) scale(1 1.03)">1647</text>
<text font-size="70.5" transform="translate(1311.6 1143.1) scale(1 1.03)">1440</text>
<text font-size="70" transform="translate(376.0 1242.6) scale(1 1.03)">3454</text>
<text font-size="70.5" transform="translate(562.7 1274.5) scale(1 1.03)">2932</text>
<text font-size="70.5" transform="translate(766.4 1229.5) scale(1 1.03)">2840</text>
<text font-size="70.5" transform="translate(1372.8 1287.9) scale(1 1.03)">1157</text>
<text font-size="70.5" transform="translate(1606.4 1276.3) scale(1 1.03)">1076</text>
<line x1="612.9" y1="658.2" x2="642.9" y2="628.5" stroke="#000" stroke-width="3.6" stroke-linecap="round"/><path d="M674.1 597.5L648.8 640.2L631.2 622.4Z" fill="#000" stroke="#000" stroke-width="1.5" stroke-linejoin="round"/>
<line x1="819.3" y1="595.4" x2="795.5" y2="581.7" stroke="#000" stroke-width="3.6" stroke-linecap="round"/><path d="M757.3 559.8L805.2 572.9L792.7 594.5Z" fill="#000" stroke="#000" stroke-width="1.5" stroke-linejoin="round"/>
<line x1="1731.3" y1="816.0" x2="1681.2" y2="783.9" stroke="#000" stroke-width="3.6" stroke-linecap="round"/><path d="M1644.2 760.1L1691.3 775.5L1677.8 796.5Z" fill="#000" stroke="#000" stroke-width="1.5" stroke-linejoin="round"/>
<line x1="1153.0" y1="1093.8" x2="1218.4" y2="1080.5" stroke="#000" stroke-width="3.6" stroke-linecap="round"/><path d="M1261.5 1071.7L1217.0 1093.5L1212.0 1069.0Z" fill="#000" stroke="#000" stroke-width="1.5" stroke-linejoin="round"/>
<line x1="641.0" y1="1205.0" x2="661.2" y2="1173.7" stroke="#000" stroke-width="3.6" stroke-linecap="round"/><path d="M685.0 1136.7L669.5 1183.8L648.5 1170.3Z" fill="#000" stroke="#000" stroke-width="1.5" stroke-linejoin="round"/>
<line x1="805.4" y1="1160.0" x2="762.8" y2="1127.4" stroke="#000" stroke-width="3.6" stroke-linecap="round"/><path d="M727.9 1100.6L773.6 1119.9L758.4 1139.7Z" fill="#000" stroke="#000" stroke-width="1.5" stroke-linejoin="round"/>
<line x1="1449.8" y1="1226.6" x2="1480.2" y2="1156.2" stroke="#000" stroke-width="3.6" stroke-linecap="round"/><path d="M1497.7 1115.8L1490.1 1164.8L1467.2 1154.9Z" fill="#000" stroke="#000" stroke-width="1.5" stroke-linejoin="round"/>
<line x1="1656.0" y1="1217.8" x2="1590.6" y2="1161.0" stroke="#000" stroke-width="3.6" stroke-linecap="round"/><path d="M1557.4 1132.1L1601.8 1154.2L1585.4 1173.0Z" fill="#000" stroke="#000" stroke-width="1.5" stroke-linejoin="round"/>
</svg></body></html>
